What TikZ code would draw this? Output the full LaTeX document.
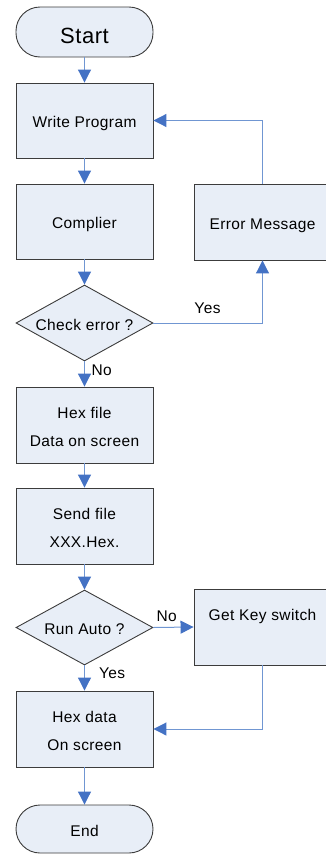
\documentclass[tikz,border=0pt]{standalone}
\usepackage{fontspec}
\setmainfont{Liberation Sans}[LetterSpace=2.5]
\usetikzlibrary{shapes.geometric,arrows.meta}
\definecolor{boxfill}{RGB}{232,238,247}
\definecolor{boxedge}{RGB}{60,60,60}
\definecolor{linkblue}{RGB}{112,150,210}
\definecolor{tipblue}{RGB}{68,114,196}
\newcommand\lowtext[1]{\raisebox{-2pt}[\height][\depth]{#1}}
\begin{document}
\begin{tikzpicture}[x=1pt,y=-1pt,
  box/.style={draw=boxedge, fill=boxfill, line width=0.9pt, minimum width=137pt, minimum height=75pt, inner sep=0pt, font=\fontsize{15.5}{28}\selectfont, align=center},
  one/.style={text height=14.5pt, text depth=0pt},
  term/.style={draw=boxedge, fill=boxfill, line width=0.9pt, minimum width=137pt, minimum height=50pt, rounded corners=24pt, inner sep=0pt},
  dec/.style={diamond, draw=boxedge, fill=boxfill, line width=0.9pt, minimum width=137pt, minimum height=76pt, inner sep=0pt, aspect=1.8, font=\fontsize{15.5}{18}\selectfont, one},
  link/.style={draw=linkblue, line width=1pt, -{Triangle[width=13pt,length=13pt,color=tipblue]}},
  lbl/.style={font=\fontsize{15.5}{18}\selectfont, inner sep=0pt, one}
]
\useasboundingbox (0,0) rectangle (326,854);
\clip (0,0) rectangle (326,854);
\node[term, font=\fontsize{22}{26}\selectfont, text height=22.8pt, text depth=0pt] (start) at (84.5,32) {Start};
\node[box, one] (wp) at (84.5,120.5) {Write Program};
\node[box, one] (comp) at (84.5,221.5) {Complier};
\node[box, one, minimum height=76pt] (err) at (262.5,222) {Error Message};
\node[dec] (chk) at (84.5,323) {Check error ?};
\node[box, minimum height=76pt] (hex) at (84.5,425) {\lowtext{Hex file}\\\lowtext{Data on screen}};
\node[box, minimum height=76pt] (send) at (84.5,526) {\lowtext{Send file}\\\lowtext{XXX.Hex.}};
\node[dec, minimum height=75pt] (run) at (84.5,627.5) {Run Auto ?};
\node[box, minimum height=76pt] (gk) at (262.5,627) {};
\node[lbl] (gkt) at (262.5,613.6) {Get Key switch};
\node[box, minimum height=76pt] (hd) at (84.5,729) {\lowtext{Hex data}\\\lowtext{On screen}};
\node[term, minimum height=48pt, font=\fontsize{15.5}{18}\selectfont, one] (end) at (84.5,829) {End};

\draw[link] (start) -- (wp);
\draw[link] (wp) -- (comp);
\draw[link] (comp) -- (chk);
\draw[link] (chk) -- (hex);
\draw[link] (hex) -- (send);
\draw[link] (send) -- (run);
\draw[link] (run) -- (hd);
\draw[link] (hd) -- (end);
\draw[link] (err.north) |- (wp.east);
\draw[link] (chk.east) -| (err.south);
\draw[link] (run.east) -- (gk.west);
\draw[link] (gk.south) |- (hd.east);

\node[lbl] (yes1) at (207.5,306.3) {Yes};
\node[lbl] (no1) at (101.7,368.6) {No};
\node[lbl] (no2) at (166.7,614.6) {No};
\node[lbl] (yes2) at (112.2,671) {Yes};
\end{tikzpicture}
\end{document}
